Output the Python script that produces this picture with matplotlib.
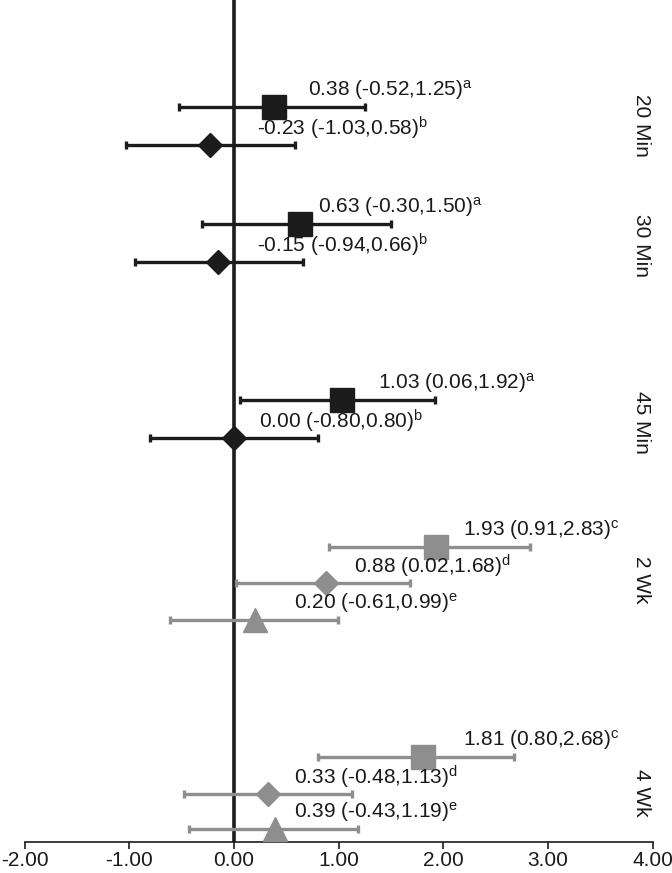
import matplotlib
matplotlib.use("Agg")
import matplotlib.pyplot as plt

plt.rcParams["font.family"] = ["Liberation Sans", "DejaVu Sans"]
plt.rcParams["mathtext.fontset"] = "custom"
plt.rcParams["mathtext.rm"] = "Liberation Sans"
plt.rcParams["mathtext.it"] = "Liberation Sans:italic"

# data: effect estimate with 95% CI, per time point
groups = ["20 Min", "30 Min", "45 Min", "2 Wk", "4 Wk"]
est = [[0.38, -0.23], [0.63, -0.15], [1.03, 0.00], [1.93, 0.88, 0.20], [1.81, 0.33, 0.39]]
lo = [[-0.52, -1.03], [-0.30, -0.94], [0.06, -0.80], [0.91, 0.02, -0.61], [0.80, -0.48, -0.43]]
hi = [[1.25, 0.58], [1.50, 0.66], [1.92, 0.80], [2.83, 1.68, 0.99], [2.68, 1.13, 1.19]]
sups = [["a", "b"], ["a", "b"], ["a", "b"], ["c", "d", "e"], ["c", "d", "e"]]

# layout (rows in pixel-like units, top = 0)
row_y = [[107, 145], [224, 262], [400, 438], [547, 583, 620], [757, 794, 829]]
group_y = [125, 245, 422, 580, 793]
label_x = [[0.71, 0.22], [0.80, 0.22], [1.38, 0.24], [2.19, 1.15, 0.57], [2.19, 0.57, 0.57]]
markers = ["s", "D", "^"]
msizes = [17, 12.5, 17]
black = "#1c1c1c"
grey = "#8e8e8e"
axis_px = 842

fig = plt.figure(figsize=(6.72, 8.73), dpi=100)
ax = fig.add_axes([24.5 / 672, 1 - axis_px / 873, (652.6 - 24.5) / 672, axis_px / 873])

ax.axvline(0, color=black, lw=2.6, zorder=1)

for g in range(len(groups)):
    color = black if g < 3 else grey
    for k in range(len(est[g])):
        y = row_y[g][k]
        e = est[g][k]
        ax.errorbar(e, y, xerr=[[e - lo[g][k]], [hi[g][k] - e]], fmt=markers[k],
                    color=color, ms=msizes[k], mec=color, mfc=color,
                    elinewidth=2.4, capsize=3, capthick=2.4, zorder=3)
        txt = f"{e:.2f} ({lo[g][k]:.2f},{hi[g][k]:.2f})" + r"$^{\mathrm{" + sups[g][k] + "}}$"
        ax.text(label_x[g][k], y - 17, txt, fontsize=15, color="#1a1a1a",
                ha="left", va="center", zorder=4)
    ax.text(0.983, group_y[g], groups[g], transform=ax.get_yaxis_transform(),
            rotation=-90, ha="center", va="center", fontsize=15, color="#1a1a1a")

ax.set_xlim(-2, 4)
ax.set_ylim(axis_px, 0)
ax.set_xticks([-2, -1, 0, 1, 2, 3, 4])
ax.set_xticklabels([f"{v:.2f}" for v in [-2, -1, 0, 1, 2, 3, 4]], fontsize=15, color="#1a1a1a")
ax.set_yticks([])
for s in ["left", "top", "right"]:
    ax.spines[s].set_visible(False)
ax.spines["bottom"].set_linewidth(1.2)
ax.spines["bottom"].set_color(black)
ax.tick_params(axis="x", direction="out", length=5, width=1.2, color=black, pad=1.5)

fig.savefig("out.png", dpi=100)
